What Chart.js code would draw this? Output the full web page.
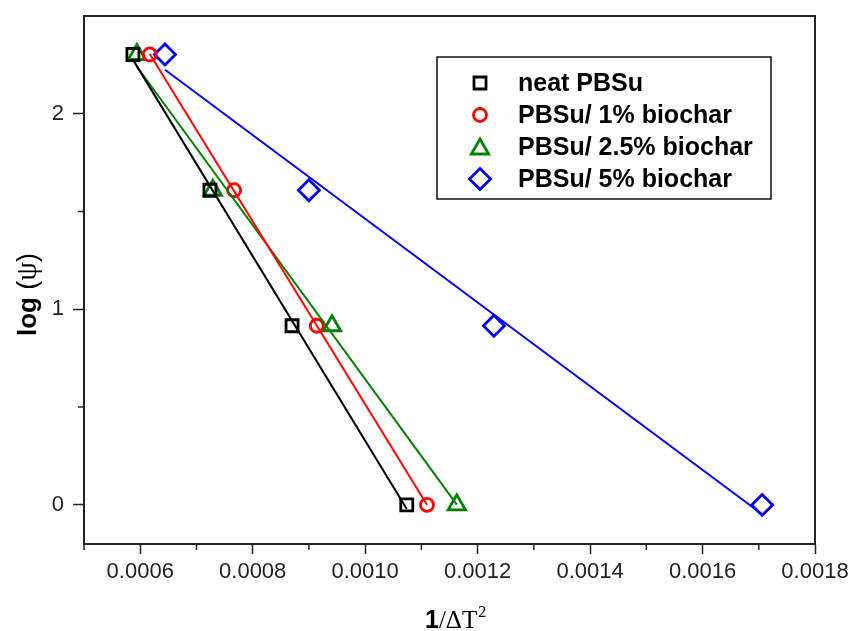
<!DOCTYPE html>
<html>
<head>
<meta charset="utf-8">
<script src="https://cdn.jsdelivr.net/npm/chart.js@4/dist/chart.umd.min.js"></script>
<style>
  html, body { margin: 0; padding: 0; background: #fff; }
  #wrap { width: 851px; height: 631px; }
</style>
</head>
<body>
<div id="wrap"><canvas id="chart" width="851" height="631"></canvas></div>
<script>
// log(psi) levels shared by all samples
const yLogPsi = [2.303, 1.609, 0.916, 0];

// 1/dT^2 for each sample
const xNeat = [0.000587, 0.000724, 0.000870, 0.001074];
const x1pct = [0.000617, 0.000767, 0.000914, 0.001110];
const x25pct = [0.000594, 0.000729, 0.000941, 0.001163];
const x5pct = [0.000644, 0.000900, 0.001229, 0.001706];

const seriesNames = ['neat PBSu', 'PBSu/ 1% biochar', 'PBSu/ 2.5% biochar', 'PBSu/ 5% biochar'];
const xTickValues = [0.0006, 0.0008, 0.0010, 0.0012, 0.0014, 0.0016, 0.0018];
const yTickValues = [0, 1, 2];

const colors = ['#000000', '#ff0000', '#008000', '#0000ff'];
const shapes = ['rect', 'circle', 'triangle', 'rectRot'];
const radii = [8.5, 6.5, 10, 10.5];

function toPoints(xs) {
  return xs.map((x, i) => ({ x: x, y: yLogPsi[i] }));
}

// least squares line over the x range of the data
function fitLine(xs) {
  const n = xs.length;
  const mx = xs.reduce((a, b) => a + b, 0) / n;
  const my = yLogPsi.reduce((a, b) => a + b, 0) / n;
  let sxy = 0, sxx = 0;
  xs.forEach((x, i) => {
    sxy += (x - mx) * (yLogPsi[i] - my);
    sxx += (x - mx) * (x - mx);
  });
  const k = sxy / sxx;
  const x0 = Math.min(...xs), x1 = Math.max(...xs);
  return [{ x: x0, y: my + k * (x0 - mx) }, { x: x1, y: my + k * (x1 - mx) }];
}

const allX = [xNeat, x1pct, x25pct, x5pct];
const datasets = [];
allX.forEach((xs, i) => {
  datasets.push({
    type: 'line',
    data: fitLine(xs),
    borderColor: colors[i],
    borderWidth: 2,
    pointRadius: 0,
    fill: false
  });
});
allX.forEach((xs, i) => {
  datasets.push({
    type: 'scatter',
    label: seriesNames[i],
    data: toPoints(xs),
    borderColor: colors[i],
    backgroundColor: 'rgba(0,0,0,0)',
    pointStyle: shapes[i],
    pointRadius: radii[i],
    pointBorderWidth: 2.8,
    showLine: false
  });
});

const frame = {
  id: 'frame',
  afterDraw(chart) {
    const ctx = chart.ctx;
    const a = chart.chartArea;
    const xs = chart.scales.x, ys = chart.scales.y;
    ctx.save();
    ctx.strokeStyle = '#222';
    ctx.lineWidth = 2;
    ctx.strokeRect(a.left, a.top, a.right - a.left, a.bottom - a.top);

    // minor ticks
    ctx.lineWidth = 1.5;
    ctx.beginPath();
    [0.0005, 0.0007, 0.0009, 0.0011, 0.0013, 0.0015, 0.0017].forEach(v => {
      const px = xs.getPixelForValue(v);
      ctx.moveTo(px, a.bottom);
      ctx.lineTo(px, a.bottom + 6);
    });
    [0.5, 1.5].forEach(v => {
      const py = ys.getPixelForValue(v);
      ctx.moveTo(a.left, py);
      ctx.lineTo(a.left - 6, py);
    });
    ctx.stroke();

    // legend box
    const lx = 437, ly = 57, lw = 334, lh = 142;
    ctx.lineWidth = 1.5;
    ctx.strokeStyle = '#111';
    ctx.strokeRect(lx, ly, lw, lh);
    const rows = [83, 115, 147, 179];
    const lr = [8.5, 6.5, 10, 10.5];
    seriesNames.forEach((name, i) => {
      ctx.strokeStyle = colors[i];
      ctx.fillStyle = 'rgba(0,0,0,0)';
      ctx.lineWidth = 2.8;
      Chart.helpers.drawPoint(ctx, { pointStyle: shapes[i], radius: lr[i], borderWidth: 2.8 }, 480, rows[i] + (i === 2 ? 2 : 0));
      ctx.fillStyle = '#000';
      ctx.font = 'bold 25px "Liberation Sans", Arial, sans-serif';
      ctx.textAlign = 'left';
      ctx.textBaseline = 'middle';
      ctx.fillText(name, 518, rows[i] + 1);
    });

    // x axis title: 1/ΔT²
    ctx.fillStyle = '#000';
    ctx.textBaseline = 'alphabetic';
    let tx = 425;
    const by = 628;
    ctx.font = 'bold 25px "Liberation Sans", Arial, sans-serif';
    ctx.fillText('1', tx, by);
    tx += ctx.measureText('1').width;
    ctx.font = '25px "Liberation Serif", "Times New Roman", serif';
    ctx.fillText('/\u0394T', tx, by);
    tx += ctx.measureText('/\u0394T').width;
    ctx.font = '16px "Liberation Serif", "Times New Roman", serif';
    ctx.fillText('2', tx + 1, by - 11);

    // y axis title: log (ψ)
    ctx.save();
    ctx.translate(36, 336);
    ctx.rotate(-Math.PI / 2);
    let ty = 0;
    ctx.font = 'bold 26px "Liberation Sans", Arial, sans-serif';
    ctx.fillText('log ', ty, 0);
    ty += ctx.measureText('log ').width;
    ctx.font = '27px "Liberation Sans", Arial, sans-serif';
    ctx.fillText('(', ty, 0);
    ty += ctx.measureText('(').width;
    ctx.font = '30px "Liberation Serif", "Times New Roman", serif';
    ctx.fillText('\u03c8', ty, 0);
    ty += ctx.measureText('\u03c8').width;
    ctx.font = '27px "Liberation Sans", Arial, sans-serif';
    ctx.fillText(')', ty, 0);
    ctx.restore();

    ctx.restore();
  }
};

new Chart(document.getElementById('chart'), {
  type: 'scatter',
  data: { datasets: datasets },
  options: {
    responsive: false,
    animation: false,
    layout: { padding: { left: 0, top: 16, right: 36, bottom: 0 } },
    plugins: {
      legend: { display: false },
      tooltip: { enabled: false }
    },
    scales: {
      x: {
        type: 'linear',
        min: 0.0005,
        max: 0.0018,
        afterBuildTicks: s => { s.ticks = xTickValues.map(v => ({ value: v })); },
        afterFit: s => { s.height = 87; s.paddingLeft = 0; s.paddingRight = 0; },
        ticks: {
          color: '#222',
          padding: 5,
          maxRotation: 0,
          font: { family: '"Liberation Sans", Arial, sans-serif', size: 22 },
          callback: v => v.toFixed(4)
        },
        grid: { drawOnChartArea: false, tickLength: 10, tickColor: '#222', tickWidth: 1.5 },
        border: { display: true, color: '#222', width: 2 }
      },
      y: {
        type: 'linear',
        min: -0.2,
        max: 2.5,
        afterBuildTicks: s => { s.ticks = yTickValues.map(v => ({ value: v })); },
        afterFit: s => { s.width = 84; s.paddingTop = 0; s.paddingBottom = 0; },
        ticks: {
          color: '#222',
          padding: 9,
          font: { family: '"Liberation Sans", Arial, sans-serif', size: 22 },
          callback: v => String(v)
        },
        grid: { drawOnChartArea: false, tickLength: 11, tickColor: '#222', tickWidth: 1.5 },
        border: { display: true, color: '#222', width: 2 }
      }
    }
  },
  plugins: [frame]
});
</script>
</body>
</html>
